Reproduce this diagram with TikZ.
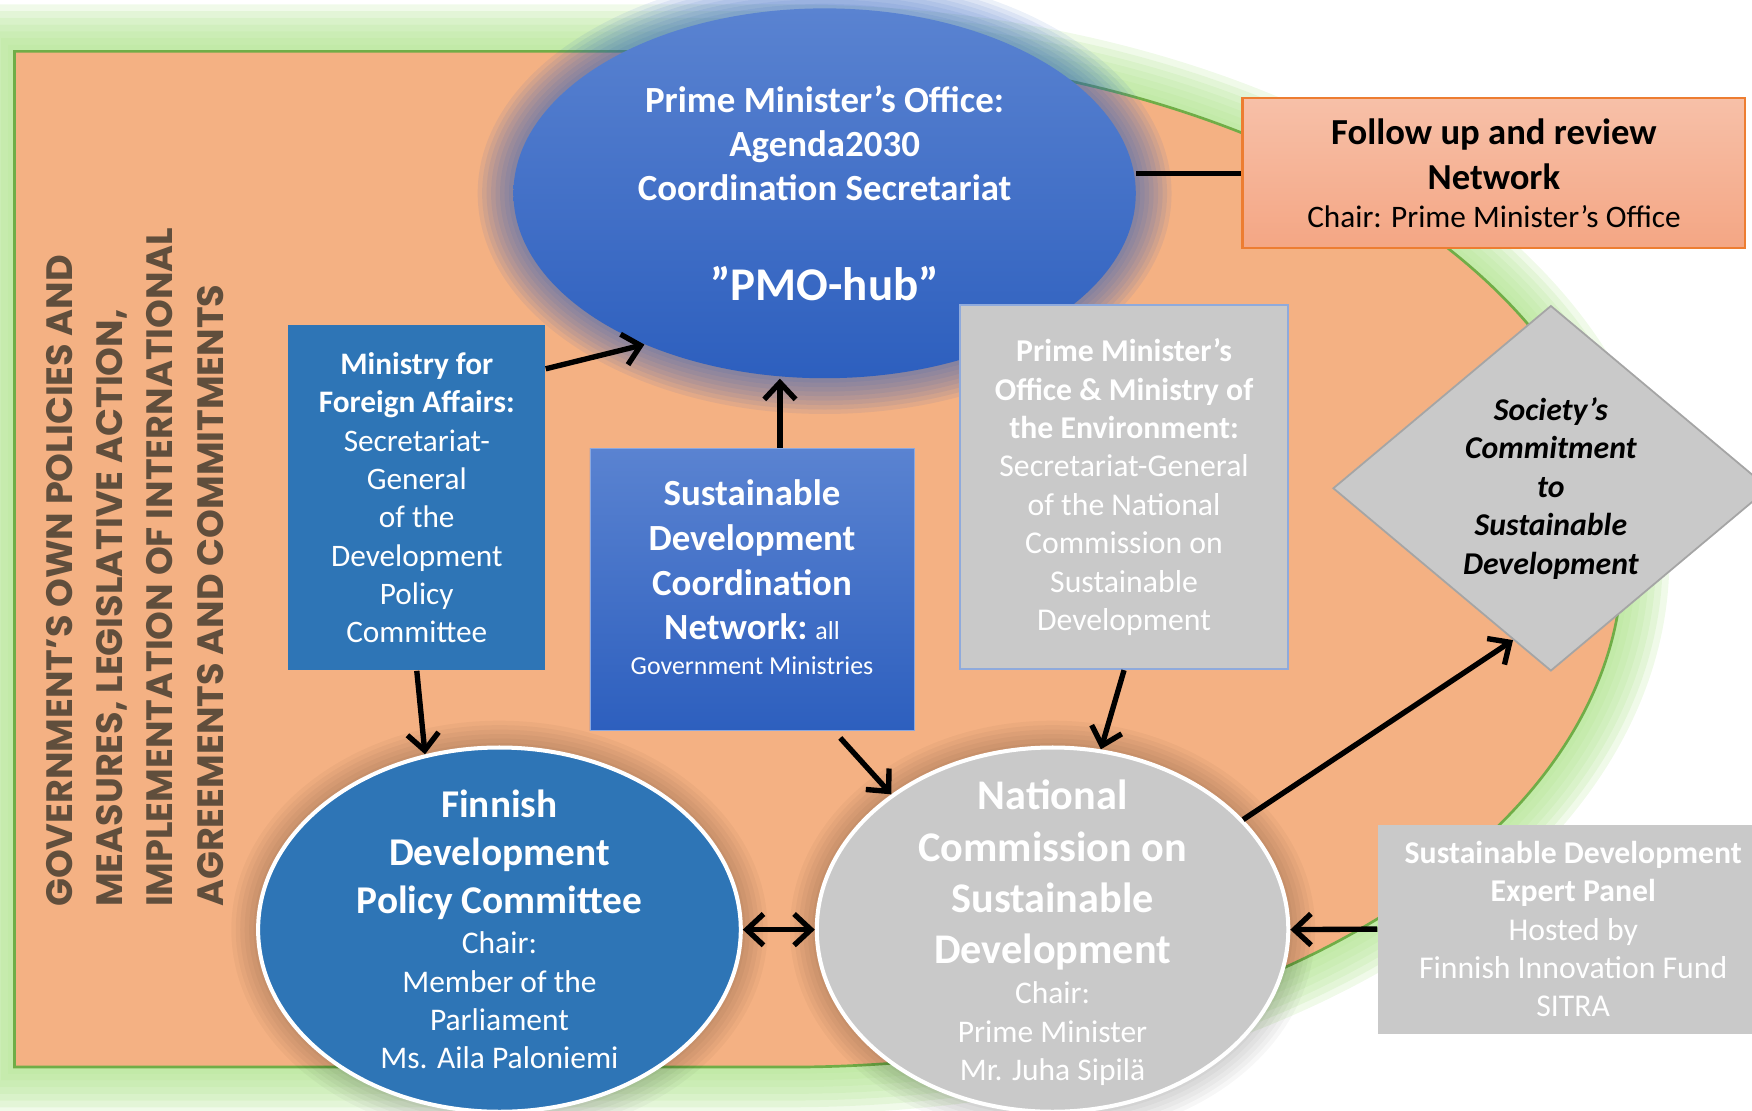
\documentclass[tikz,border=0pt]{standalone}
\usepackage{fontspec}
\setmainfont{Carlito}
\newfontfamily\bannerfont{Poppins}
\usetikzlibrary{shapes.geometric, positioning, arrows.meta}
\definecolor{bgorange}{RGB}{244,177,131}
\definecolor{bggreen}{RGB}{112,173,71}
\definecolor{glowgreen}{RGB}{178,228,145}
\definecolor{hubtop}{RGB}{90,131,209}
\definecolor{hubbot}{RGB}{45,95,190}
\definecolor{steel}{RGB}{46,117,182}
\definecolor{panelgrey}{RGB}{201,201,201}
\definecolor{paleblue}{RGB}{143,170,220}
\definecolor{diamondline}{RGB}{165,165,165}
\definecolor{salmontop}{RGB}{247,192,168}
\definecolor{salmonbot}{RGB}{244,166,132}
\definecolor{salmonline}{RGB}{237,125,49}
\definecolor{bannertext}{RGB}{96,78,60}
\newcommand\headA{\bfseries\fontsize{17.6}{21.5}\selectfont}
\newcommand\headB{\bfseries\fontsize{18.9}{23}\selectfont}
\newcommand\bodyA{\mdseries\fontsize{14.1}{17.2}\selectfont}
\tikzset{>={Straight Barb[length=7.5pt,width=14pt]}}
\tikzset{
  link/.style={line width=2.4pt},
  panel/.style={rectangle, inner sep=0pt, align=center, text=white},
  oval/.style={ellipse, inner sep=0pt},
  ovaltext/.style={align=center, inner sep=0pt, text=white}
}

\begin{document}
\begin{tikzpicture}[x=0.5pt, y=-0.5pt]
  \useasboundingbox (0,0) rectangle (1568,994);
  \clip (0,0) rectangle (1568,994);
  % ground with green glow
  \foreach \w in {6,12,...,42}
    \draw[glowgreen, line width=\w pt, opacity=0.2] (706,46) -- (13,46) -- (13,955) -- (706,955)
      arc[start angle=-90, end angle=90, x radius=373pt, y radius=227.25pt] -- cycle;
  \filldraw[fill=bgorange, draw=bggreen, line width=1.2pt] (706,46) -- (13,46) -- (13,955) -- (706,955)
      arc[start angle=-90, end angle=90, x radius=373pt, y radius=227.25pt] -- cycle;

  \node (banner) [rotate=90, anchor=north west, align=left, inner sep=0pt, text=bannertext,
    font=\bannerfont\bfseries\fontsize{16.4}{22.5}\selectfont] at (41,812)
    {GOVERNMENT’S OWN POLICIES AND\\MEASURES, LEGISLATIVE ACTION,\\IMPLEMENTATION OF INTERNATIONAL\\AGREEMENTS AND COMMITMENTS};

  % hub
  \foreach \r in {2,4,...,16}
    \fill[hubbot, opacity=0.09] (738,173) ellipse [x radius=139.25pt+\r pt, y radius=82.75pt+\r pt];
  \node (pmo) [oval, minimum width=278.5pt, minimum height=165.5pt, top color=hubtop, bottom color=hubbot] at (738,173) {};
  \node (pmotext) [ovaltext, font=\bfseries\fontsize{16.5}{19.75}\selectfont] at (pmo.center)
    {Prime Minister’s Office:\\Agenda2030\\Coordination Secretariat\\[25pt]\fontsize{21}{25}\selectfont ”PMO-hub”};

  \node (follow) [panel, text=black, draw=salmonline, line width=1pt, top color=salmontop, bottom color=salmonbot,
    minimum width=225pt, minimum height=67pt, font=\bfseries\fontsize{16.4}{20}\selectfont] at (1337,155)
    {Follow up and review\\Network\\[-2.8pt]\mdseries\fontsize{14}{17}\selectfont Chair: Prime Minister’s Office};

  \node (mfa) [panel, fill=steel, minimum width=115pt, minimum height=154.5pt, font=\fontsize{14}{17.15}\selectfont] at (373,445.5)
    {\bfseries Ministry for\\\bfseries Foreign Affairs:\\\mdseries Secretariat-\\General\\of the\\Development\\Policy\\Committee};

  \node (sdcn) [panel, draw=hubtop!70!white, top color=hubtop, bottom color=hubbot, minimum width=145pt, minimum height=126.5pt] at (673,527.5) {};
  \node (sdcntext) [ovaltext, font=\bfseries\fontsize{16.5}{20}\selectfont] at ([yshift=5.5pt]sdcn.center)
    {Sustainable\\Development\\Coordination\\Network:\mdseries\fontsize{11.6}{14}\selectfont{} all\\[-4.6pt]\mdseries\fontsize{11.6}{14}\selectfont Government Ministries};

  \node (pme) [panel, fill=panelgrey, draw=paleblue, line width=0.8pt, minimum width=147pt, minimum height=163pt,
    font=\fontsize{14.2}{17.2}\selectfont] at (1006,436)
    {\bfseries Prime Minister’s\\\bfseries Office \& Ministry of\\\bfseries the Environment:\\\mdseries Secretariat-General\\of the National\\Commission on\\Sustainable\\Development};

  \node (soc) [diamond, fill=panelgrey, draw=diamondline, line width=0.8pt, inner sep=0pt, minimum width=195pt, minimum height=163.5pt,
    align=center, font=\bfseries\itshape\fontsize{14.2}{17.2}\selectfont] at (1388,437)
    {Society’s\\Commitment\\to\\Sustainable\\Development};

  % lower ovals
  \foreach \r in {2,4,...,12}
    \fill[black, opacity=0.03] (447,832) ellipse [x radius=108pt+\r pt, y radius=81.5pt+\r pt];
  \foreach \r in {2,4,...,12}
    \fill[black, opacity=0.03] (942,832) ellipse [x radius=105.5pt+\r pt, y radius=81.5pt+\r pt];
  \node (fdpc) [oval, fill=steel, draw=white, line width=1.8pt, minimum width=216pt, minimum height=163pt] at (447,832) {};
  \node (fdpctext) [ovaltext, font=\bodyA] at (fdpc.center)
    {\headA Finnish\\[4.3pt]\headA Development\\[4.3pt]\headA Policy Committee\\[0.6pt]\bodyA Chair:\\Member of the\\Parliament\\Ms. Aila Paloniemi};
  \node (ncsd) [oval, fill=panelgrey, draw=white, line width=1.8pt, minimum width=211pt, minimum height=163pt] at (942,832) {};
  \node (ncsdtext) [ovaltext, font=\bodyA] at ([yshift=-1.5pt]ncsd.center)
    {\headB National\\[5.8pt]\headB Commission on\\[5.8pt]\headB Sustainable\\[5.8pt]\headB Development\\[0.7pt]\bodyA Chair:\\Prime Minister\\Mr. Juha Sipilä};

  \node (sdep) [panel, fill=panelgrey, minimum width=175pt, minimum height=93.5pt, font=\fontsize{14.2}{17.2}\selectfont] at (1408,831.5)
    {\bfseries Sustainable Development\\\bfseries Expert Panel\\\mdseries Hosted by\\Finnish Innovation Fund\\SITRA};

  % connectors
  \draw[link] (follow.west -| pmo.east) -- (follow.west);
  \draw[link, ->] (mfa.45) -- (pmo.220);
  \draw[link, ->] ([xshift=12.5pt]sdcn.north) -- ([xshift=12.5pt]sdcn.north |- pmo.south);
  \draw[link, ->] (mfa.south) -- (fdpc.113);
  \draw[link, ->] ([xshift=39.5pt, yshift=-3pt]sdcn.south) -- (ncsd.140);
  \draw[link, ->] (pme.south) -- (ncsd.75);
  \draw[link, ->] (ncsd.30) -- (soc.256);
  \draw[link, ->] (sdep.west) -- (ncsd.east);
  \draw[link, <->] (fdpc.east) -- (ncsd.west);
\end{tikzpicture}
\end{document}
